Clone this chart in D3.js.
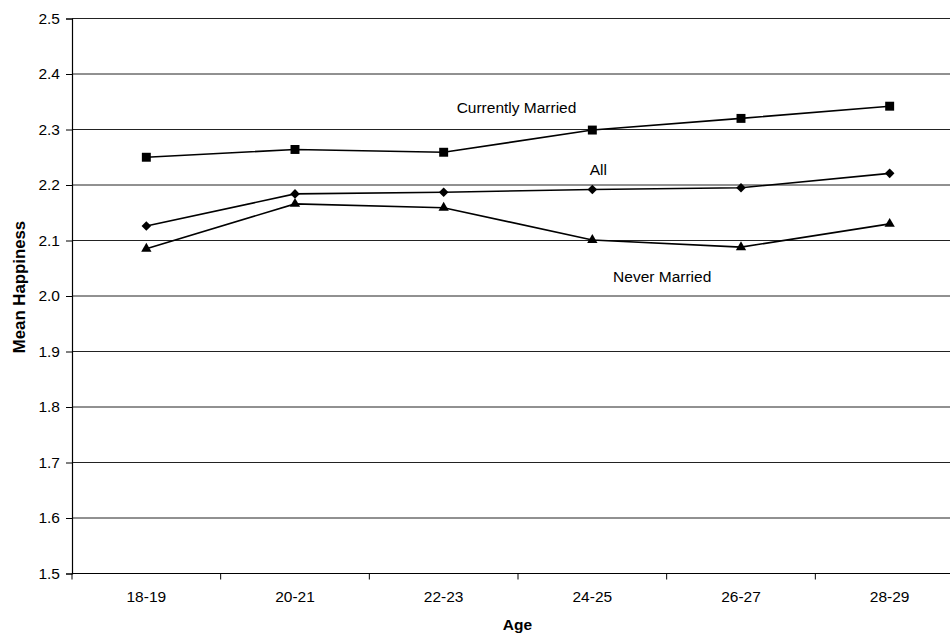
<!DOCTYPE html>
<html>
<head>
<meta charset="utf-8">
<script src="https://cdn.jsdelivr.net/npm/d3@7"></script>
<style>
  body { margin: 0; background: #fff; }
  text { font-family: "Liberation Sans", Arial, sans-serif; }
</style>
</head>
<body>
<div id="chart"></div>
<script>
// Chart data
const ages = ["18-19", "20-21", "22-23", "24-25", "26-27", "28-29"];
const currentlyMarried = [2.250, 2.264, 2.259, 2.299, 2.320, 2.342];
const allPeople = [2.126, 2.184, 2.187, 2.192, 2.195, 2.221];
const neverMarried = [2.085, 2.166, 2.159, 2.101, 2.088, 2.130];
const yTicks = [1.5, 1.6, 1.7, 1.8, 1.9, 2.0, 2.1, 2.2, 2.3, 2.4, 2.5];

const width = 950;
const height = 636;
const margin = {top: 18.5, left: 72, bottom: 62.5};
// the plot runs a little past the right edge of the picture
const plotRight = 964;

const svg = d3.select("#chart")
    .append("svg")
    .attr("width", width)
    .attr("height", height);

const x = d3.scaleBand()
    .domain(ages)
    .range([margin.left, plotRight]);

const y = d3.scaleLinear()
    .domain([1.5, 2.5])
    .range([height - margin.bottom, margin.top]);

const cx = d => x(d) + x.bandwidth() / 2;

// Horizontal gridlines
svg.append("g")
    .selectAll("line")
    .data(yTicks)
    .join("line")
    .attr("x1", margin.left)
    .attr("x2", plotRight)
    .attr("y1", d => y(d))
    .attr("y2", d => y(d))
    .attr("stroke", "#222")
    .attr("stroke-width", 1);

// Y axis
const yAxis = svg.append("g")
    .attr("transform", `translate(${margin.left},0)`)
    .call(d3.axisLeft(y).tickValues(yTicks).tickSize(6).tickPadding(6).tickFormat(d3.format(".1f")));
yAxis.select(".domain").attr("stroke", "#000").attr("stroke-width", 1.2);
yAxis.selectAll(".tick line").attr("stroke", "#000");
yAxis.selectAll(".tick text")
    .attr("font-size", 15.5)
    .attr("fill", "#000")
    .style("font-family", "'Liberation Sans', Arial, sans-serif");

// X axis with ticks between categories
const xAxis = svg.append("g")
    .attr("transform", `translate(0,${y(1.5)})`);
xAxis.append("line")
    .attr("x1", margin.left)
    .attr("x2", plotRight)
    .attr("stroke", "#000")
    .attr("stroke-width", 1.2);
xAxis.selectAll(".sep")
    .data(ages.concat(["end"]))
    .join("line")
    .attr("class", "sep")
    .attr("x1", (d, i) => margin.left + i * x.bandwidth())
    .attr("x2", (d, i) => margin.left + i * x.bandwidth())
    .attr("y1", 0)
    .attr("y2", 6)
    .attr("stroke", "#000");
xAxis.selectAll(".lab")
    .data(ages)
    .join("text")
    .attr("class", "lab")
    .attr("x", cx)
    .attr("y", 28)
    .attr("text-anchor", "middle")
    .attr("font-size", 15.5)
    .text(d => d);

// Axis titles
svg.append("text")
    .attr("x", (margin.left + plotRight) / 2 - 0.5)
    .attr("y", 630)
    .attr("text-anchor", "middle")
    .attr("font-size", 15.5)
    .attr("font-weight", "bold")
    .text("Age");

svg.append("text")
    .attr("transform", `translate(25,${287}) rotate(-90)`)
    .attr("text-anchor", "middle")
    .attr("font-size", 16.8)
    .attr("font-weight", "bold")
    .text("Mean Happiness");

// Series lines and markers
const series = [
    {name: "Currently Married", values: currentlyMarried, symbol: d3.symbolSquare, size: 80, rot: 0},
    {name: "All", values: allPeople, symbol: d3.symbolSquare, size: 46, rot: 45},
    {name: "Never Married", values: neverMarried, symbol: d3.symbolTriangle, size: 46, rot: 0}
];

const line = d3.line()
    .x((d, i) => cx(ages[i]))
    .y(d => y(d));

series.forEach(s => {
    svg.append("path")
        .attr("d", line(s.values))
        .attr("fill", "none")
        .attr("stroke", "#000")
        .attr("stroke-width", 1.6);

    svg.append("g")
        .selectAll("path")
        .data(s.values)
        .join("path")
        .attr("transform", (d, i) => `translate(${cx(ages[i])},${y(d)}) rotate(${s.rot})`)
        .attr("d", d3.symbol().type(s.symbol).size(s.size))
        .attr("fill", "#000");
});

// Series labels placed inside the plot
const between = (a, b, t) => cx(a) + (cx(b) - cx(a)) * t;
const notes = [
    {text: "Currently Married", x: between("22-23", "24-25", 0.49), y: y(2.329)},
    {text: "All", x: cx("24-25") + 6, y: y(2.218)},
    {text: "Never Married", x: between("24-25", "26-27", 0.47), y: y(2.026)}
];
svg.append("g")
    .selectAll("text")
    .data(notes)
    .join("text")
    .attr("x", d => d.x)
    .attr("y", d => d.y)
    .attr("text-anchor", "middle")
    .attr("font-size", 15.5)
    .text(d => d.text);
</script>
</body>
</html>
